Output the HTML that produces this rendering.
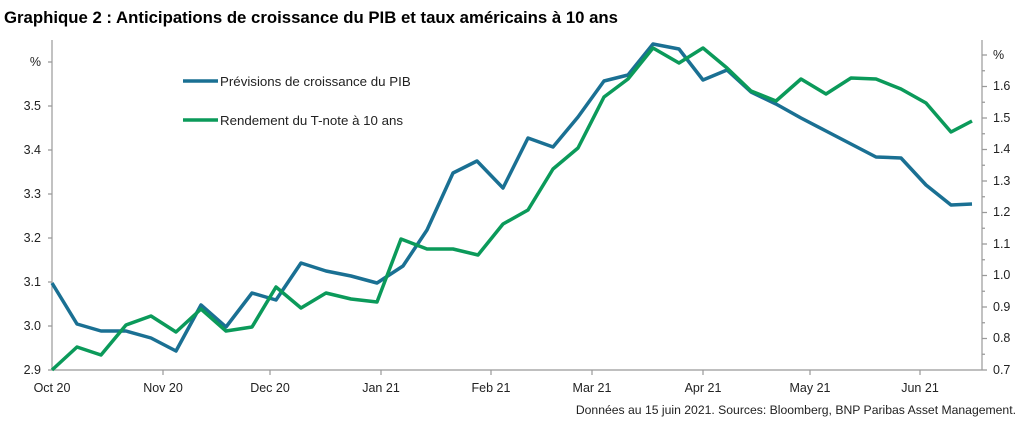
<!DOCTYPE html>
<html><head><meta charset="utf-8"><style>
body{margin:0;background:#fff;width:1024px;height:428px;overflow:hidden}
svg{display:block}
text{font-family:"Liberation Sans",sans-serif;fill:#222}
</style></head><body>
<svg width="1024" height="428" viewBox="0 0 1024 428">
<text x="4" y="23" font-size="17" font-weight="bold" textLength="614" lengthAdjust="spacingAndGlyphs" style="fill:#000">Graphique 2 : Anticipations de croissance du PIB et taux américains à 10 ans</text>
<g stroke="#999" stroke-width="1.2" fill="none">
<line x1="52" y1="40" x2="52" y2="370"/>
<line x1="52" y1="370" x2="982" y2="370"/>
<line x1="982" y1="40" x2="982" y2="370"/>
<path d="M48 62H52M48 106H52M48 150H52M48 194H52M48 238H52M48 282H52M48 326H52M48 370H52"/>
<path d="M982 55H987M982 86.5H987M982 118H987M982 149.5H987M982 181H987M982 212.5H987M982 244H987M982 275.5H987M982 307H987M982 338.5H987M982 370H987"/>
<path d="M982 70.75H985M982 102.25H985M982 133.75H985M982 165.25H985M982 196.75H985M982 228.25H985M982 259.75H985M982 291.25H985M982 322.75H985M982 354.25H985"/>
<path d="M163 370V375M270 370V375M381 370V375M491 370V375M592 370V375M703 370V375M810 370V375M920 370V375"/>
</g>
<g font-size="12.5" text-anchor="end">
<text x="41" y="66">%</text><text x="41" y="110">3.5</text><text x="41" y="154">3.4</text><text x="41" y="198">3.3</text><text x="41" y="242">3.2</text><text x="41" y="286">3.1</text><text x="41" y="330">3.0</text><text x="41" y="374">2.9</text>
</g>
<g font-size="12.5">
<text x="993" y="59">%</text><text x="993" y="90">1.6</text><text x="993" y="122">1.5</text><text x="993" y="153">1.4</text><text x="993" y="185">1.3</text><text x="993" y="216">1.2</text><text x="993" y="248">1.1</text><text x="993" y="279">1.0</text><text x="993" y="311">0.9</text><text x="993" y="342">0.8</text><text x="993" y="374">0.7</text>
</g>
<g font-size="12.5" text-anchor="middle">
<text x="52" y="392">Oct 20</text><text x="163" y="392">Nov 20</text><text x="270" y="392">Dec 20</text><text x="381" y="392">Jan 21</text><text x="491" y="392">Feb 21</text><text x="592" y="392">Mar 21</text><text x="703" y="392">Apr 21</text><text x="810" y="392">May 21</text><text x="920" y="392">Jun 21</text>
</g>
<text x="1016" y="414" font-size="12.2" text-anchor="end">Données au 15 juin 2021. Sources: Bloomberg, BNP Paribas Asset Management.</text>
<line x1="183" y1="81" x2="218" y2="81" stroke="#1a7093" stroke-width="3.5"/>
<text x="220" y="86" font-size="13.3">Prévisions de croissance du PIB</text>
<line x1="183" y1="120" x2="218" y2="120" stroke="#0b9a5a" stroke-width="3.5"/>
<text x="220" y="125" font-size="13.3">Rendement du T-note à 10 ans</text>
<polyline fill="none" stroke="#1a7093" stroke-width="3.5" stroke-linejoin="round" points="52,283 77,324 101,331 126,331 151,338 176,351 201,305 226,327 252,293 276,300 301,263 326,271 351,276 377,283 403,266 427,230 453,173 477,161 503,188 528,138 553,147 578,117 604,81 628,75 653,44 679,49 703,80 727,70 751,92 776,104 801,118 826,131 851,144 876,157 901,158 926,185 951,205 972,204"/>
<polyline fill="none" stroke="#0b9a5a" stroke-width="3.5" stroke-linejoin="round" points="52,370 77,347 101,355 126,325 151,316 176,332 201,309 226,331 252,327 276,287 301,308 326,293 351,299 377,302 401,239 427,249 453,249 478,255 503,224 528,210 553,169 578,148 604,97 628,79 653,48 679,63 703,48 727,68 751,91 776,101 801,79 826,94 851,78 876,79 901,89 926,103 951,132 972,121"/>
</svg>
</body></html>
